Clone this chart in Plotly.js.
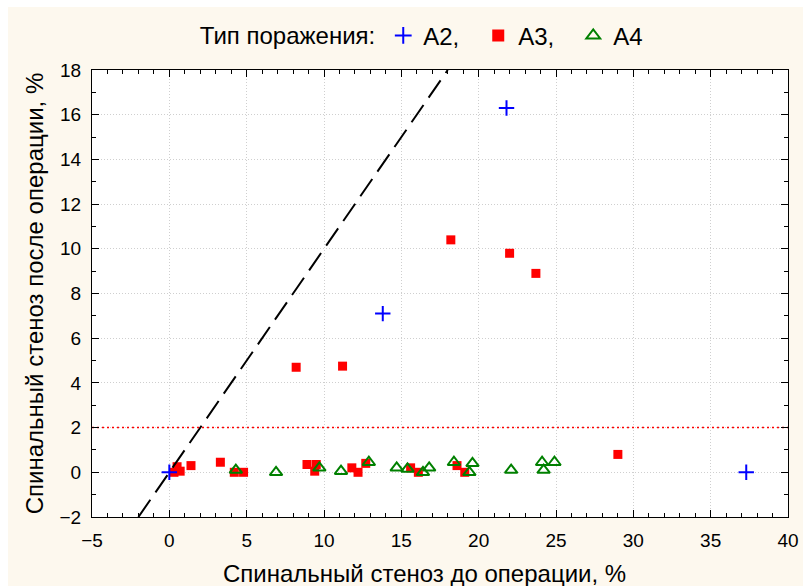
<!DOCTYPE html>
<html>
<head>
<meta charset="utf-8">
<script src="https://cdn.plot.ly/plotly-3.0.1.min.js"></script>
<style>
html,body{margin:0;padding:0;background:#ffffff;}
#chart{position:absolute;left:8px;top:7px;width:795px;height:579px;}
</style>
</head>
<body>
<div id="chart"></div>
<script>
// Data
const a2X = [0, 13.8, 21.8, 37.3];
const a2Y = [0, 7.1, 16.3, 0];

const a3X = [0.3, 0.5, 0.7, 1.4, 3.3, 4.2, 4.8, 8.2, 8.9, 9.4, 9.5, 11.2, 11.8, 12.2, 12.7, 15.6, 16.1, 18.2, 18.6, 19.1, 22.0, 23.7, 29.0];
const a3Y = [0.0, 0.25, 0.05, 0.3, 0.45, 0.0, 0.0, 4.7, 0.35, 0.05, 0.35, 4.75, 0.2, 0.0, 0.4, 0.2, 0.0, 10.4, 0.3, 0.0, 9.8, 8.9, 0.8];

const a4X = [4.3, 6.9, 9.7, 11.1, 12.9, 14.7, 15.4, 16.4, 16.8, 18.4, 19.4, 19.6, 22.1, 24.1, 24.2, 24.9];
const a4Y = [0.1, 0.0, 0.2, 0.05, 0.45, 0.2, 0.15, 0.0, 0.2, 0.45, 0.0, 0.4, 0.1, 0.45, 0.1, 0.45];

// Reference lines
const identityX = [-2, 18];
const identityY = [-2, 18];
const thresholdX = [-5, 40];
const thresholdY = [2, 2];

const seriesNames = ["A2,", "A3,", "A4"];
const legendTitle = "Тип поражения:";
const xTitle = "Спинальный стеноз до операции, %";
const yTitle = "Спинальный стеноз после операции, %";

const font = "Liberation Sans, Arial, sans-serif";

const traces = [
  {x: a3X, y: a3Y, type: "scatter", mode: "markers", name: seriesNames[1], legendrank: 2,
   marker: {symbol: "square", size: 9, color: "#ff0000", line: {width: 0}}},
  {x: identityX, y: identityY, type: "scatter", mode: "lines", showlegend: false, hoverinfo: "skip",
   line: {color: "#000000", width: 2, dash: "21px,9px"}},
  {x: thresholdX, y: thresholdY, type: "scatter", mode: "lines", showlegend: false, hoverinfo: "skip",
   line: {color: "#ff0000", width: 1.5, dash: "2px,3px"}},
  {x: a4X, y: a4Y, type: "scatter", mode: "markers", name: seriesNames[2], legendrank: 3,
   marker: {symbol: "triangle-up-open", size: 11, color: "#008000", line: {width: 2, color: "#008000"}}},
  {x: a2X, y: a2Y, type: "scatter", mode: "markers", name: seriesNames[0], legendrank: 1,
   marker: {symbol: "cross-thin-open", size: 11, color: "#0000ff", line: {width: 2, color: "#0000ff"}}}
];

const axisCommon = {
  showline: true, linecolor: "#000000", linewidth: 1, mirror: "ticks",
  ticks: "inside", ticklen: 7, tickwidth: 1, tickcolor: "#000000",
  showgrid: true, gridcolor: "#cfcfcf", griddash: "1px,2px", gridwidth: 1,
  zeroline: false, tickfont: {family: font, size: 19, color: "#000000"},
  fixedrange: true, automargin: false
};

const layout = {
  width: 795, height: 579,
  paper_bgcolor: "#fdf8ee", plot_bgcolor: "#ffffff",
  margin: {l: 84, r: 15, t: 63, b: 69, autoexpand: false},
  showlegend: true,
  legend: {
    orientation: "h", x: 0.152, xanchor: "left", y: 1.0765, yanchor: "middle",
    bgcolor: "rgba(0,0,0,0)", font: {family: font, size: 24, color: "#000000"},
    title: {text: legendTitle, side: "left", font: {family: font, size: 24, color: "#000000"}},
    entrywidth: 50, entrywidthmode: "pixels",
    itemsizing: "constant", traceorder: "normal"
  },
  xaxis: Object.assign({}, axisCommon, {
    range: [-5, 40], dtick: 5, tick0: 0,
    minor: {dtick: 1, ticks: "inside", ticklen: 4, tickcolor: "#000000", showgrid: false},
    ticklabelstandoff: 6
  }),
  yaxis: Object.assign({}, axisCommon, {
    range: [-2, 18], dtick: 2, tick0: 0,
    minor: {dtick: 1, ticks: "inside", ticklen: 4, tickcolor: "#000000", showgrid: false},
    ticklabelstandoff: 6,
    title: {text: yTitle, font: {family: font, size: 24, color: "#000000"}, standoff: 9}
  }),
  annotations: [
    {text: xTitle, xref: "paper", yref: "paper", x: 0.478, y: -0.1275,
     xanchor: "center", yanchor: "middle", showarrow: false,
     font: {family: font, size: 24, color: "#000000"}}
  ]
};

Plotly.newPlot("chart", traces, layout, {displayModeBar: false, staticPlot: true});
</script>
</body>
</html>
